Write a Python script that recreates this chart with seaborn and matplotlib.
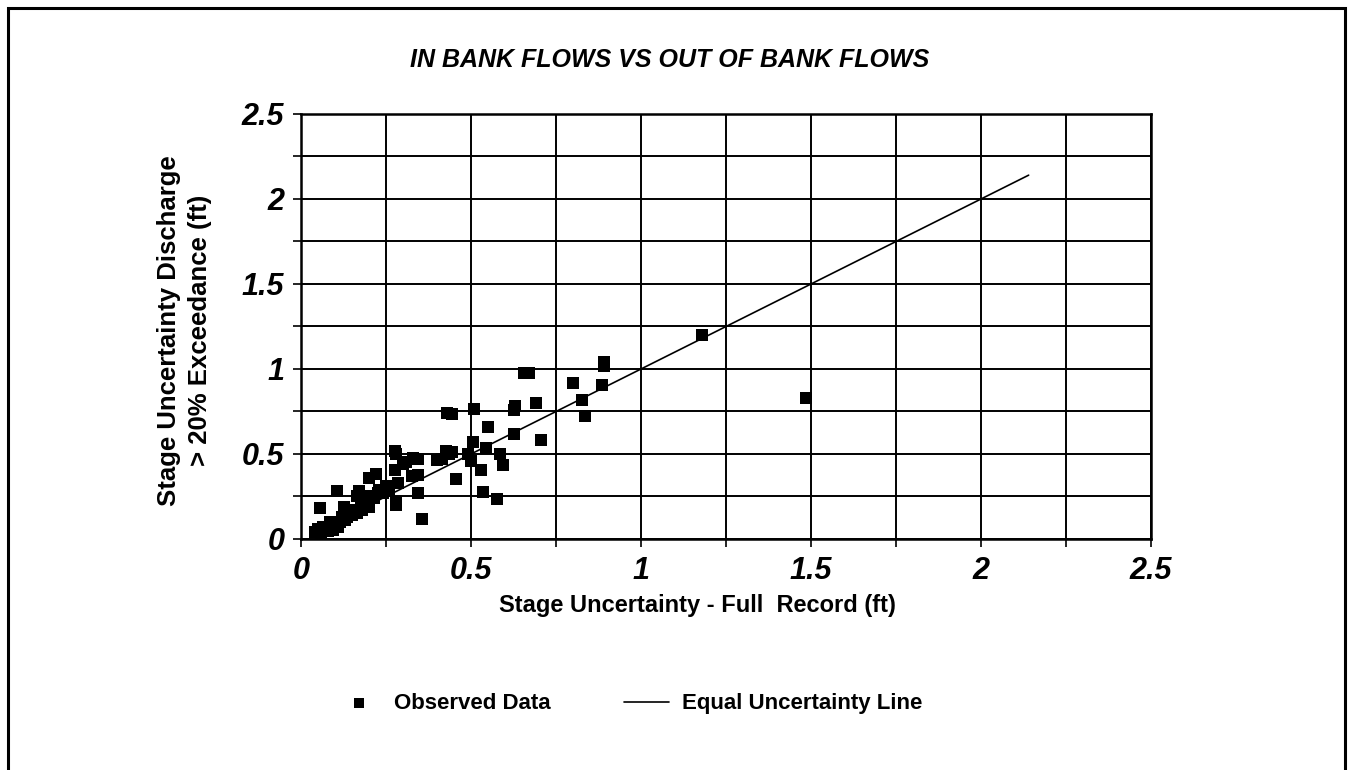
import matplotlib
matplotlib.use("Agg")
import matplotlib.pyplot as plt
import seaborn as sns
import pandas as pd
from matplotlib.patches import Rectangle
from matplotlib.ticker import MultipleLocator


# ---------------------------------------------------------
# data
# ---------------------------------------------------------
full_record = [
    1.18, 1.485, 0.89, 0.89, 0.885, 0.80, 0.655, 0.67, 0.825, 0.835,
    0.69, 0.63, 0.625, 0.51, 0.43, 0.445, 0.55, 0.625, 0.705, 0.505,
    0.545, 0.585, 0.50, 0.595, 0.53, 0.455, 0.535, 0.575, 0.425, 0.435,
    0.445, 0.49, 0.40, 0.415, 0.275, 0.28, 0.31, 0.33, 0.345, 0.30,
    0.275, 0.325, 0.345, 0.22, 0.20, 0.25, 0.285, 0.345, 0.28, 0.28,
    0.355, 0.105, 0.055, 0.17, 0.165, 0.23, 0.195, 0.125, 0.145, 0.165,
    0.185, 0.215, 0.24, 0.26, 0.12, 0.135, 0.155, 0.04, 0.06, 0.065,
    0.08, 0.085, 0.095, 0.10, 0.11, 0.115, 0.05, 0.07, 0.09, 0.13,
    0.15, 0.175, 0.19, 0.205, 0.18, 0.20, 0.225,
]
exceedance_20 = [
    1.20, 0.83, 1.04, 1.02, 0.905, 0.915, 0.975, 0.975, 0.82, 0.725,
    0.80, 0.78, 0.76, 0.765, 0.74, 0.735, 0.66, 0.615, 0.585, 0.57,
    0.535, 0.50, 0.46, 0.435, 0.405, 0.355, 0.275, 0.235, 0.52, 0.50,
    0.51, 0.50, 0.465, 0.47, 0.52, 0.50, 0.455, 0.475, 0.47, 0.44,
    0.405, 0.37, 0.375, 0.385, 0.36, 0.31, 0.33, 0.27, 0.20, 0.22,
    0.12, 0.285, 0.185, 0.285, 0.25, 0.29, 0.23, 0.19, 0.17, 0.15,
    0.19, 0.24, 0.27, 0.28, 0.13, 0.13, 0.16, 0.04, 0.03, 0.07,
    0.045, 0.10, 0.055, 0.08, 0.07, 0.10, 0.06, 0.05, 0.09, 0.11,
    0.14, 0.20, 0.21, 0.25, 0.17, 0.19, 0.27,
]
equal_line = [0.04, 2.14]

ticks_major = [0, 0.5, 1, 1.5, 2, 2.5]
tick_labels = ["0", "0.5", "1", "1.5", "2", "2.5"]

df = pd.DataFrame({"full": full_record, "exceed": exceedance_20})
line_df = pd.DataFrame({"x": equal_line, "y": equal_line})

sns.set_style("white")
plt.rcParams["font.family"] = ["Liberation Sans", "DejaVu Sans"]
plt.rcParams["text.color"] = "black"
plt.rcParams["axes.labelcolor"] = "black"
plt.rcParams["xtick.color"] = "black"
plt.rcParams["ytick.color"] = "black"

fig = plt.figure(figsize=(13.51, 7.70), dpi=100)
ax = fig.add_axes([0.2228, 0.30, 0.6292, 0.552])

sns.scatterplot(data=df, x="full", y="exceed", marker="s", s=72,
                color="black", edgecolor="black", linewidth=0,
                ax=ax, label="Observed Data", zorder=3)
sns.lineplot(data=line_df, x="x", y="y", color="black", linewidth=1.2,
             ax=ax, label="Equal Uncertainty Line", zorder=2)

ax.set_xlim(0, 2.5)
ax.set_ylim(0, 2.5)
ax.xaxis.set_minor_locator(MultipleLocator(0.25))
ax.yaxis.set_minor_locator(MultipleLocator(0.25))
ax.set_xticks(ticks_major)
ax.set_xticklabels(tick_labels)
ax.set_yticks(ticks_major)
ax.set_yticklabels(tick_labels)
ax.grid(True, which="both", color="black", linewidth=1.4)
ax.set_axisbelow(True)
for sp in ax.spines.values():
    sp.set_color("black")
    sp.set_linewidth(1.8)

ax.tick_params(axis="both", which="both", direction="out", length=6,
               width=1.2, color="black", bottom=True, left=True)
ax.tick_params(axis="both", which="major", labelsize=22, pad=6)
for lab in ax.get_xticklabels() + ax.get_yticklabels():
    lab.set_fontweight("bold")
    lab.set_fontstyle("italic")

ax.set_xlabel("Stage Uncertainty - Full  Record (ft)", fontsize=17,
              fontweight="bold")
ax.xaxis.set_label_coords(0.466, -0.13)
ax.set_ylabel("Stage Uncertainty Discharge\n> 20% Exceedance (ft)",
              fontsize=18.5, fontweight="bold", linespacing=1.35)
ax.yaxis.set_label_coords(-0.105, 0.49)

fig.text(0.496, 0.922, "IN BANK FLOWS VS OUT OF BANK FLOWS", ha="center",
         va="center", fontsize=18, fontweight="bold", fontstyle="italic")

handles, labels = ax.get_legend_handles_labels()
ax.get_legend().remove()
fig.legend(handles, labels, loc="center", bbox_to_anchor=(0.466, 0.086),
           ncol=2, frameon=False, handlelength=2.0, columnspacing=3.3,
           handletextpad=0.6, markerscale=0.8,
           prop={"weight": "bold", "size": 16})

# page frame
fig.patches.append(Rectangle((0.006, -0.05), 0.9896, 1.0396,
                             transform=fig.transFigure, fill=False,
                             edgecolor="black", linewidth=2.2))

fig.savefig("out.png", dpi=100)
